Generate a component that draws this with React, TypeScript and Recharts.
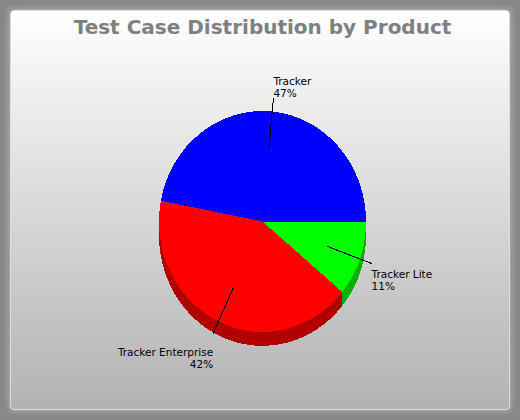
import { PieChart, Pie, Cell } from 'recharts';

const PRODUCTS: string[] = ['Tracker', 'Tracker Enterprise', 'Tracker Lite'];
const SHARES: number[] = [47, 42, 11];

const TOP_COLORS: string[] = ['#0000FF', '#FF0000', '#00FF00'];
const SIDE_COLORS: string[] = ['#0000B0', '#B00000', '#00B000'];

const TITLE = 'Test Case Distribution by Product';

const RADIAN = Math.PI / 180;
const CX = 262.5;
const CY = 221.5;
const RADIUS = 103.5;
// the pie is a bit taller than wide, so the chart layer is stretched vertically
const STRETCH = 110.5 / 103.5;
const DEPTH = 13;
const LINE_GAP = 12;

const data = PRODUCTS.map((name, i) => ({ name, value: SHARES[i] }));

function renderLabel(props: any) {
    const { cx, cy, midAngle, outerRadius, name, value } = props;
    const cos = Math.cos(-(midAngle ?? 0) * RADIAN);
    const sin = Math.sin(-(midAngle ?? 0) * RADIAN);
    const x0 = cx + outerRadius * 0.66 * cos;
    const y0 = cy + outerRadius * 0.66 * sin;
    const x1 = cx + outerRadius * 1.12 * cos;
    const y1 = cy + outerRadius * 1.12 * sin;
    const anchor = cos >= 0 ? 'start' : 'end';

    // offsets below are screen pixels, the group undoes the stretch
    let first: number;
    if (-sin > 0.5) first = -13;
    else first = 9.5 + 14 * Math.abs(sin);

    return (
        <g>
            <line x1={x0} y1={y0} x2={x1} y2={y1} stroke="#000" strokeWidth={1} />
            <g transform={`translate(${x1} ${y1}) scale(1 ${1 / STRETCH})`}>
                <text x={0} y={first} textAnchor={anchor} fill="#000" fontSize={10.5} fontFamily="'DejaVu Sans', sans-serif">
                    {name}
                </text>
                <text x={0} y={first + LINE_GAP} textAnchor={anchor} fill="#000" fontSize={10.5} fontFamily="'DejaVu Sans', sans-serif">
                    {`${value}%`}
                </text>
            </g>
        </g>
    );
}

export default function App() {
    const layers = Array.from({ length: DEPTH }, (_, k) => DEPTH - k);

    return (
        <div style={{ position: 'absolute', left: 0, top: 0, width: 520, height: 420, background: '#888888', overflow: 'hidden' }}>
            <div
                style={{
                    position: 'absolute',
                    left: 10,
                    top: 10,
                    width: 498,
                    height: 398,
                    border: '1px solid #dedede',
                    borderRadius: 4,
                    background: 'linear-gradient(to bottom, #ffffff, #b2b2b2)',
                    boxShadow: '0 0 5px 2px #a8a8a8',
                }}
            />
            <svg width={520} height={60} style={{ position: 'absolute', left: 0, top: 0 }}>
                <text x={262.5} y={34} textAnchor="middle" fill="#808080" fontSize={20} fontWeight="bold" fontFamily="'DejaVu Sans', sans-serif">
                    {TITLE}
                </text>
            </svg>
            <div
                style={{
                    position: 'absolute',
                    left: 0,
                    top: 0,
                    transform: `scaleY(${STRETCH})`,
                    transformOrigin: `${CX}px ${CY}px`,
                }}
            >
                <PieChart width={520} height={420} margin={{ top: 0, right: 0, bottom: 0, left: 0 }} style={{ shapeRendering: 'crispEdges' }}>
                    {layers.map((d) => (
                        <Pie
                            key={`side-${d}`}
                            data={data}
                            dataKey="value"
                            nameKey="name"
                            cx={CX}
                            cy={CY + d}
                            outerRadius={RADIUS}
                            startAngle={0}
                            endAngle={360}
                            stroke="none"
                            isAnimationActive={false}
                        >
                            {data.map((entry, i) => (
                                <Cell key={`side-${d}-${entry.name}`} fill={SIDE_COLORS[i]} />
                            ))}
                        </Pie>
                    ))}
                    <Pie
                        data={data}
                        dataKey="value"
                        nameKey="name"
                        cx={CX}
                        cy={CY}
                        outerRadius={RADIUS}
                        startAngle={0}
                        endAngle={360}
                        stroke="none"
                        label={renderLabel}
                        labelLine={false}
                        isAnimationActive={false}
                    >
                        {data.map((entry, i) => (
                            <Cell key={`top-${entry.name}`} fill={TOP_COLORS[i]} />
                        ))}
                    </Pie>
                </PieChart>
            </div>
        </div>
    );
}
